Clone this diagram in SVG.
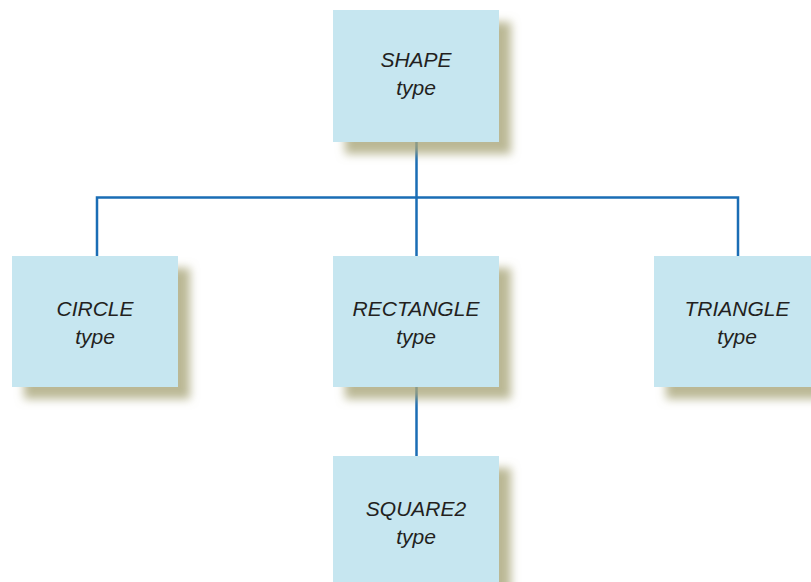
<svg xmlns="http://www.w3.org/2000/svg" width="811" height="582" viewBox="0 0 811 582">
  <defs>
    <filter id="shadow" x="-20%" y="-20%" width="150%" height="150%">
      <feGaussianBlur in="SourceAlpha" stdDeviation="5"/>
      <feOffset dx="12" dy="12" result="blur"/>
      <feFlood flood-color="#a9a67a" flood-opacity="0.8"/>
      <feComposite in2="blur" operator="in" result="shade"/>
      <feMerge>
        <feMergeNode in="shade"/>
        <feMergeNode in="SourceGraphic"/>
      </feMerge>
    </filter>
  </defs>
  <style>
    .box { fill: #c6e6f0; filter: url(#shadow); }
    .label { font-family: "Liberation Sans", "DejaVu Sans", sans-serif; font-style: italic; font-size: 21px; fill: #231f20; text-anchor: middle; }
    .link { stroke: #1a6db5; stroke-width: 2.5; fill: none; }
  </style>
  <rect width="811" height="582" fill="#ffffff"/>

  <g id="connectors">
    <path class="link" d="M416.5 142 V197.5 M97 256 V197.5 H738 V256 M416.5 197.5 V256"/>
    <path class="link" d="M416.5 387 V456"/>
  </g>

  <g id="shape">
    <rect class="box" x="333" y="10" width="166" height="132"/>
    <text class="label" x="416" y="67">SHAPE</text>
    <text class="label" x="416" y="95">type</text>
  </g>

  <g id="circle">
    <rect class="box" x="12" y="256" width="166" height="131"/>
    <text class="label" x="95" y="316">CIRCLE</text>
    <text class="label" x="95" y="344">type</text>
  </g>

  <g id="rectangle">
    <rect class="box" x="333" y="256" width="166" height="131"/>
    <text class="label" x="416" y="316">RECTANGLE</text>
    <text class="label" x="416" y="344">type</text>
  </g>

  <g id="triangle">
    <rect class="box" x="654" y="256" width="166" height="131"/>
    <text class="label" x="737" y="316">TRIANGLE</text>
    <text class="label" x="737" y="344">type</text>
  </g>

  <g id="square2">
    <rect class="box" x="333" y="456" width="166" height="140"/>
    <text class="label" x="416" y="516">SQUARE2</text>
    <text class="label" x="416" y="544">type</text>
  </g>
</svg>
